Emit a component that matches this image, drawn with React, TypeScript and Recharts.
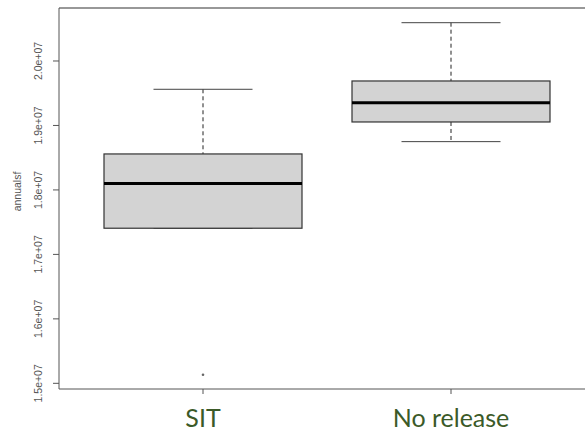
import { ComposedChart, Bar, Scatter, XAxis, YAxis, ReferenceLine } from 'recharts';

const categories = ['SIT', 'No release'];
const whiskerLow = [17406000, 18749000];
const q1 = [17406000, 19054000];
const median = [18098000, 19353000];
const q3 = [18558000, 19690000];
const whiskerHigh = [19561000, 20594000];
const outliers: (number | null)[] = [15133000, null];
const yTicks = [15000000, 16000000, 17000000, 18000000, 19000000, 20000000];
const yDomain: [number, number] = [14912000, 20822000];

const data = categories.map((name, i) => ({
  name,
  range: [whiskerLow[i], whiskerHigh[i]],
  lo: whiskerLow[i],
  hi: whiskerHigh[i],
  q1: q1[i],
  median: median[i],
  q3: q3[i],
  outlier: outliers[i],
}));

function BoxShape(props: any) {
  const { x, y, width, height, payload } = props;
  const { lo, hi } = payload;
  const py = (v: number) => y + ((hi - v) / (hi - lo)) * height;
  const cx = x + width / 2;
  const capL = x + width / 4;
  const capR = x + (width * 3) / 4;
  const yq1 = py(payload.q1);
  const yq3 = py(payload.q3);
  return (
    <g>
      <line x1={cx} x2={cx} y1={py(hi)} y2={yq3} stroke="#222" strokeDasharray="4 3" />
      <line x1={cx} x2={cx} y1={yq1} y2={py(lo)} stroke="#222" strokeDasharray="4 3" />
      <line x1={capL} x2={capR} y1={py(hi)} y2={py(hi)} stroke="#444" />
      <line x1={capL} x2={capR} y1={py(lo)} y2={py(lo)} stroke="#444" />
      <rect x={x} y={yq3} width={width} height={yq1 - yq3} fill="#d3d3d3" stroke="#333" strokeWidth={1.2} />
      <line x1={x} x2={x + width} y1={py(payload.median)} y2={py(payload.median)} stroke="#000" strokeWidth={3} />
    </g>
  );
}

function OutlierShape(props: any) {
  if (props.payload?.outlier == null) return null;
  return <circle cx={props.cx} cy={props.cy} r={1.3} fill="#666" />;
}

function YTick({ x, y, payload }: any) {
  const label = (payload.value / 1e7).toFixed(1) + 'e+07';
  return (
    <text
      transform={`translate(${x - 2},${y}) rotate(-90)`}
      textAnchor="middle"
      fontFamily="Liberation Sans, Arial, sans-serif"
      fontSize={10.5}
      fill="#555"
    >
      {label}
    </text>
  );
}

function XTick({ x, y, payload }: any) {
  return (
    <text x={x} y={y} dy={31} textAnchor="middle" fontFamily="Lato, sans-serif" fontSize={25} fill="#3b5a28">
      {payload.value}
    </text>
  );
}

function YLabel({ viewBox }: any) {
  const { x, y, height } = viewBox;
  return (
    <text
      transform={`translate(${x + 21},${y + height / 2 - 7}) rotate(-90)`}
      textAnchor="middle"
      fontFamily="Liberation Sans, Arial, sans-serif"
      fontSize={10.5}
      style={{ fill: '#555' }}
    >
      annualsf
    </text>
  );
}

export default function App() {
  return (
    <div style={{ position: 'absolute', left: 0, top: 0, background: '#fff' }}>
      <ComposedChart width={585} height={435} data={data} margin={{ top: 8, right: 0, bottom: 0, left: 0 }}>
        <XAxis
          dataKey="name"
          height={46}
          padding={{ left: 20, right: 10 }}
          tick={<XTick />}
          tickSize={5}
          stroke="#555"
          interval={0}
        />
        <YAxis
          width={59}
          domain={yDomain}
          ticks={yTicks}
          allowDataOverflow
          tick={<YTick />}
          tickSize={6}
          tickMargin={9}
          stroke="#555"
          label={<YLabel />}
        />
        <ReferenceLine y={yDomain[1]} stroke="#333" strokeWidth={1.2} />
        <Bar dataKey="range" barSize={198} shape={<BoxShape />} isAnimationActive={false} />
        <Scatter dataKey="outlier" shape={<OutlierShape />} isAnimationActive={false} />
      </ComposedChart>
    </div>
  );
}
